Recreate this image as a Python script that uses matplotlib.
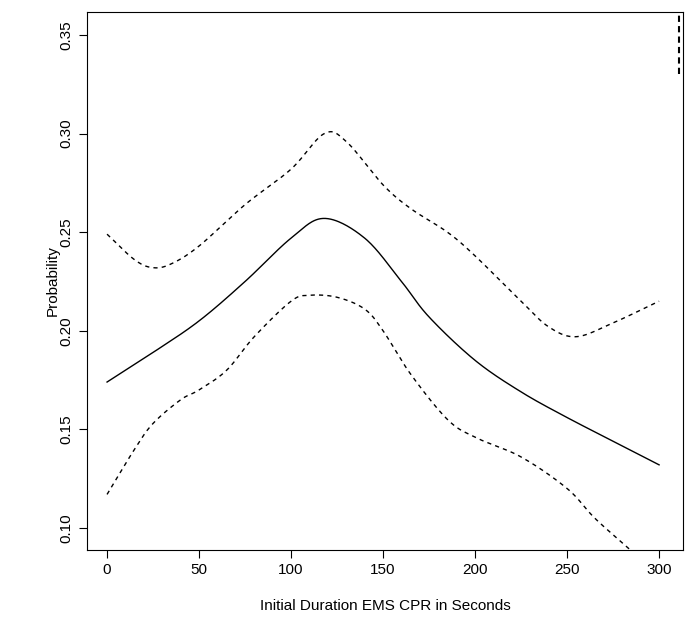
import matplotlib
matplotlib.use("Agg")
import matplotlib.pyplot as plt
import numpy as np

plt.rcParams["font.family"] = "Liberation Sans"

# fitted probability and confidence band
fit_x = [0, 25, 50, 75, 100, 118, 140, 160, 175, 200, 225, 250, 275, 300]
fit_y = [0.174, 0.189, 0.205, 0.225, 0.247, 0.257, 0.247, 0.225, 0.207, 0.185, 0.169, 0.156, 0.144, 0.132]

upper_x = [0, 15, 25, 35, 50, 75, 100, 118, 130, 150, 165, 185, 200, 225, 240, 255, 275, 300]
upper_y = [0.249, 0.236, 0.232, 0.234, 0.243, 0.264, 0.282, 0.300, 0.296, 0.274, 0.262, 0.250, 0.238, 0.215, 0.202, 0.197, 0.204, 0.215]

lower_x = [0, 15, 25, 40, 50, 65, 80, 100, 110, 125, 140, 150, 165, 185, 200, 225, 250, 265, 283, 300]
lower_y = [0.117, 0.140, 0.153, 0.165, 0.170, 0.180, 0.197, 0.215, 0.218, 0.217, 0.211, 0.200, 0.178, 0.155, 0.146, 0.136, 0.120, 0.105, 0.090, 0.076]

x_ticks = [0, 50, 100, 150, 200, 250, 300]
y_ticks = [0.10, 0.15, 0.20, 0.25, 0.30, 0.35]


def smooth(xs, ys, n=30):
    # catmull-rom through the read points
    x = np.asarray(xs, float)
    y = np.asarray(ys, float)
    px = np.concatenate([[2*x[0]-x[1]], x, [2*x[-1]-x[-2]]])
    py = np.concatenate([[2*y[0]-y[1]], y, [2*y[-1]-y[-2]]])
    ox, oy = [], []
    t = np.linspace(0, 1, n, endpoint=False)
    for i in range(1, len(px) - 2):
        for p, o in ((px, ox), (py, oy)):
            p0, p1, p2, p3 = p[i-1], p[i], p[i+1], p[i+2]
            o.extend(0.5 * (2*p1 + (-p0 + p2)*t + (2*p0 - 5*p1 + 4*p2 - p3)*t**2
                            + (-p0 + 3*p1 - 3*p2 + p3)*t**3))
    ox.append(x[-1])
    oy.append(y[-1])
    return ox, oy


fig = plt.figure(figsize=(6.95, 6.32), dpi=100)
ax = fig.add_axes([87/695, 1 - 550/632, (683-87)/695, (550-12)/632])

ax.plot(*smooth(fit_x, fit_y), color="black", lw=1)
ax.plot(*smooth(upper_x, upper_y), color="black", lw=1, ls=(0, (3, 3)))
ax.plot(*smooth(lower_x, lower_y), color="black", lw=1, ls=(0, (3, 3)))
ax.plot([311, 311], [0.330, 0.362], color="black", lw=1.5, ls=(0, (3, 2)))

ax.set_xlim(-10.9, 313)
ax.set_ylim(0.0888, 0.3617)
ax.set_xticks(x_ticks)
ax.set_xticklabels([str(t) for t in x_ticks], fontsize=11)
ax.set_yticks(y_ticks)
ax.set_yticklabels(["%.2f" % t for t in y_ticks], fontsize=11, rotation=90, va="center")
ax.tick_params(length=6, color="black")
ax.set_xlabel("Initial Duration EMS CPR in Seconds", fontsize=11, labelpad=16)
ax.set_ylabel("Probability", fontsize=11, labelpad=0)

fig.savefig("out.png", dpi=100)
